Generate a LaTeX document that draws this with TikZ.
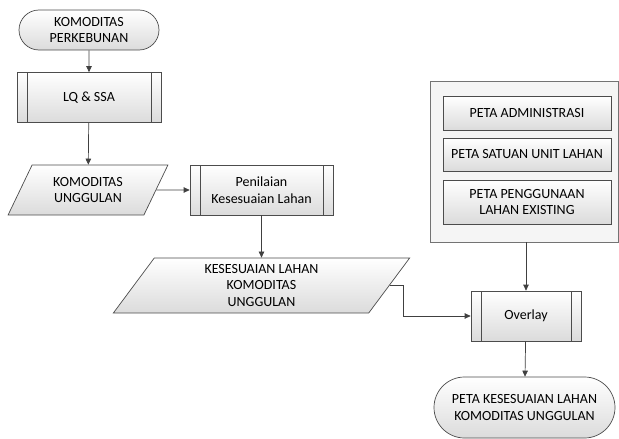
\documentclass[tikz,border=0pt]{standalone}
\usepackage{fontspec}
\setmainfont{Carlito}
\usetikzlibrary{shapes.misc,shapes.geometric,arrows.meta}

\begin{document}
\begin{tikzpicture}[x=1pt, y=-1pt,
    font=\fontsize{14}{16.5}\selectfont,
    shade box/.style ={draw=black!70, line width=0.7pt, top color=white, bottom color=black!14, align=center, inner sep=2pt},
    terminal/.style ={shade box, rounded rectangle},
    process/.style ={shade box, rectangle, path picture={
        \draw[black!70, line width=0.7pt]
          ([xshift=10pt]path picture bounding box.north west) -- ([xshift=10pt]path picture bounding box.south west)
          ([xshift=-10pt]path picture bounding box.north east) -- ([xshift=-10pt]path picture bounding box.south east);}},
    data/.style ={shade box, trapezium, trapezium stretches=true},
    layer/.style ={shade box, rectangle, minimum width=168pt},
    flow/.style ={draw=black!75, line width=0.7pt, -{Triangle[length=6pt,width=5.5pt]}}]
   \useasboundingbox (0,0) rectangle (619,439);

   \node[terminal, minimum width=144pt, minimum height=40pt] (mulai) at (89,30) {KOMODITAS\\PERKEBUNAN};
   \node[process, minimum width=144pt, minimum height=50pt] (lqssa) at (89,97.5) {LQ \& SSA};
   \node[data, trapezium left angle=62, trapezium right angle=118, minimum width=160pt, minimum height=50pt] (unggul) at (88,190) {KOMODITAS\\UNGGULAN};
   \node[process, minimum width=143pt, minimum height=50pt] (nilai) at (261.5,190) {Penilaian\\Kesesuaian Lahan};
   \node[data, trapezium left angle=64, trapezium right angle=116, minimum width=297pt, minimum height=55pt] (sesuai) at (261.5,285.5) {KESESUAIAN LAHAN\\KOMODITAS\\UNGGULAN};

   \node[draw=black!55, fill=black!4, line width=0.7pt, minimum width=188pt, minimum height=161pt, inner sep=0pt] (peta) at (524.5,161.5) {};
   \node[layer, minimum height=34pt] (admin) at (527,113) {PETA ADMINISTRASI};
   \node[layer, minimum height=33pt] (satuan) at (527,154.5) {PETA SATUAN UNIT LAHAN};
   \node[layer, minimum height=44pt] (guna) at (527,202) {PETA PENGGUNAAN\\LAHAN EXISTING};

   \node[process, minimum width=110pt, minimum height=50pt] (overlay) at (526,316) {Overlay};
   \node[terminal, minimum width=185pt, minimum height=61pt] (hasil) at (524.5,407.5) {PETA KESESUAIAN LAHAN\\KOMODITAS UNGGULAN};

   \draw[flow] (mulai) to (lqssa);
   \draw[flow] (lqssa) to (unggul);
   \draw[flow] (unggul) to (nilai);
   \draw[flow] (nilai) to (nilai |- sesuai.north);
   \draw[flow] (sesuai.east) -- ++(14,0) |- (overlay.west);
   \draw[flow] (overlay.north |- peta.south) to (overlay.north);
   \draw[flow] (overlay) to (hasil);
 \end{tikzpicture}
\end{document}
